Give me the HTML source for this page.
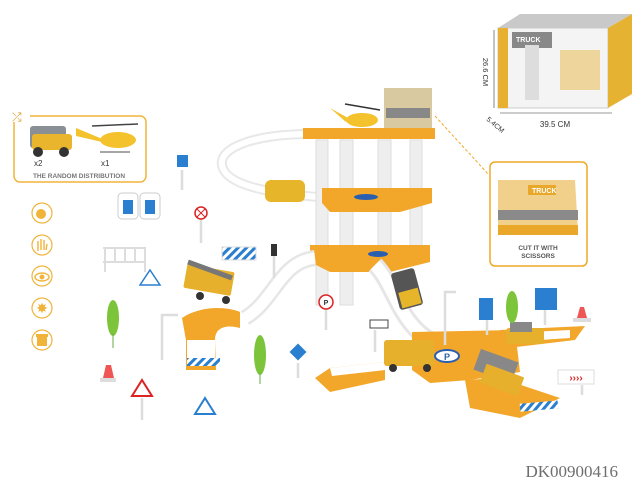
<!DOCTYPE html>
<html><head><meta charset="utf-8"><style>
html,body{margin:0;padding:0;background:#fff;width:640px;height:480px;overflow:hidden}
svg{display:block}
</style></head><body>
<svg width="640" height="480" viewBox="0 0 640 480" xmlns="http://www.w3.org/2000/svg" font-family="Liberation Sans, sans-serif">
<defs>
<pattern id="st" width="6" height="6" patternUnits="userSpaceOnUse" patternTransform="rotate(45)"><rect width="6" height="6" fill="#fff"/><rect width="3" height="6" fill="#2a7fd0"/></pattern>
</defs>
<!-- left info box -->
<rect x="14" y="116" width="132" height="66" rx="6" fill="#fff" stroke="#f2b43c" stroke-width="1.5"/>
<rect x="10" y="110" width="20" height="12" fill="#fff"/>
<text x="12" y="121" font-size="12" fill="#d99a2a">⤮</text>
<!-- truck -->
<rect x="30" y="126" width="36" height="22" rx="3" fill="#8a8f96"/>
<rect x="32" y="134" width="40" height="16" rx="3" fill="#e9b52c"/>
<circle cx="38" cy="152" r="5" fill="#333"/><circle cx="64" cy="152" r="5" fill="#333"/>
<!-- heli -->
<ellipse cx="118" cy="140" rx="18" ry="8" fill="#f3c22c"/>
<path d="M76 128 L100 138 L102 142 L76 136Z" fill="#f3c22c"/>
<line x1="92" y1="126" x2="138" y2="124" stroke="#444" stroke-width="1.5"/>
<line x1="100" y1="152" x2="130" y2="152" stroke="#888" stroke-width="1.5"/>
<text x="34" y="166" font-size="8" fill="#333">x2</text>
<text x="101" y="166" font-size="8" fill="#333">x1</text>
<text x="79" y="178" font-size="6.5" font-weight="bold" fill="#777" text-anchor="middle">THE RANDOM DISTRIBUTION</text>
<!-- left icons -->
<g fill="none" stroke="#f0b43a" stroke-width="1.2">
<circle cx="42" cy="213" r="10"/><circle cx="42" cy="245" r="10"/><circle cx="42" cy="276" r="10"/><circle cx="42" cy="308" r="10"/><circle cx="42" cy="340" r="10"/>
</g>
<circle cx="41" cy="214" r="5" fill="#f0b43a"/>
<path d="M38 251 L38 241 M41 250 L41 239 M44 250 L44 240 M46 250 L47 244" stroke="#f0b43a" stroke-width="1.4"/>
<ellipse cx="42" cy="277" rx="7" ry="4" fill="none" stroke="#f0b43a" stroke-width="1.4"/><circle cx="42" cy="277" r="2.5" fill="#f0b43a"/>
<text x="42" y="313" font-size="14" fill="#f0b43a" text-anchor="middle">✸</text>
<rect x="37" y="337" width="10" height="9" fill="#f0b43a"/><rect x="36" y="334" width="12" height="3" fill="#f0b43a"/>
<!-- top-right box -->
<rect x="498" y="28" width="110" height="80" fill="#f4f4f4" stroke="#ccc"/>
<path d="M498 28 L520 14 L632 14 L608 28Z" fill="#c9c9c9"/>
<path d="M608 28 L632 14 L632 94 L608 108Z" fill="#e6b232"/>
<rect x="498" y="28" width="10" height="80" fill="#e8b030"/>
<rect x="512" y="32" width="40" height="16" fill="#888"/>
<text x="516" y="42" font-size="7" font-weight="bold" fill="#fff">TRUCK</text>
<rect x="525" y="45" width="14" height="55" fill="#ddd"/>
<rect x="560" y="50" width="40" height="40" fill="#e8c060" opacity=".6"/>
<line x1="494" y1="30" x2="494" y2="108" stroke="#333" stroke-width=".6"/>
<line x1="500" y1="113" x2="612" y2="113" stroke="#333" stroke-width=".6"/>
<text x="483" y="72" font-size="7.5" fill="#333" transform="rotate(90 483 72)" text-anchor="middle">26.6 CM</text>
<text x="486" y="120" font-size="7" fill="#333" transform="rotate(40 486 120)">5.4CM</text>
<text x="555" y="127" font-size="8" fill="#333" text-anchor="middle">39.5 CM</text>
<!-- cut box -->
<rect x="490" y="162" width="97" height="104" rx="5" fill="#fff" stroke="#f0a826" stroke-width="1.5"/>
<path d="M498 180 L575 180 L578 232 L498 232Z" fill="#f0d08a"/>
<rect x="498" y="210" width="80" height="10" fill="#8a8a8a"/>
<rect x="498" y="225" width="80" height="10" fill="#e9a82a"/>
<rect x="528" y="185" width="28" height="10" fill="#e9a82a"/>
<text x="532" y="193" font-size="7" font-weight="bold" fill="#fff">TRUCK</text>
<text x="538" y="250" font-size="6.5" font-weight="bold" fill="#555" text-anchor="middle">CUT IT WITH</text>
<text x="538" y="258" font-size="6.5" font-weight="bold" fill="#555" text-anchor="middle">SCISSORS</text>
<line x1="435" y1="116" x2="489" y2="175" stroke="#f0a826" stroke-dasharray="3 2"/>
<!-- spiral ramp -->
<path d="M305 134 C250 135 210 150 225 172 C238 190 290 195 330 198" fill="none" stroke="#e8e8e8" stroke-width="10"/>
<path d="M305 134 C250 135 210 150 225 172 C238 190 290 195 330 198" fill="none" stroke="#fff" stroke-width="6"/>
<rect x="265" y="180" width="40" height="22" rx="6" fill="#e7b52a"/>
<!-- pillars -->
<g fill="#eee" stroke="#ddd">
<rect x="316" y="140" width="12" height="165"/><rect x="340" y="140" width="13" height="165"/><rect x="378" y="140" width="13" height="120"/><rect x="410" y="140" width="12" height="110"/>
</g>
<!-- top platform & helicopter -->
<rect x="384" y="88" width="48" height="40" fill="#d9c9a0"/>
<rect x="386" y="108" width="44" height="10" fill="#888"/>
<path d="M303 128 L435 128 L435 139 L303 139Z" fill="#f2a72a"/>
<ellipse cx="362" cy="120" rx="16" ry="7" fill="#f3c22c"/>
<path d="M330 108 L348 118 L346 122Z" fill="#f3c22c"/>
<line x1="345" y1="104" x2="380" y2="110" stroke="#333" stroke-width="1.5"/>
<!-- mid platform -->
<path d="M322 188 L432 188 L432 203 L400 212 L330 212 L322 203Z" fill="#f2a72a"/>
<ellipse cx="366" cy="197" rx="12" ry="3" fill="#2a5fb0"/>
<!-- lower platform -->
<path d="M310 245 L430 245 L430 262 L390 272 L330 272 L310 262Z" fill="#f2a72a"/>
<ellipse cx="378" cy="254" rx="10" ry="3" fill="#2a5fb0"/>
<!-- ramps -->
<path d="M315 258 C280 262 275 300 245 318" fill="none" stroke="#e6e6e6" stroke-width="16"/>
<path d="M315 258 C280 262 275 300 245 318" fill="none" stroke="#fff" stroke-width="11"/>
<path d="M375 265 C395 285 400 330 440 345" fill="none" stroke="#e6e6e6" stroke-width="18"/>
<path d="M375 265 C395 285 400 330 440 345" fill="none" stroke="#fff" stroke-width="12"/>
<rect x="395" y="270" width="24" height="38" rx="3" fill="#555" transform="rotate(-15 407 289)"/>
<rect x="400" y="290" width="20" height="16" fill="#e7b52a" transform="rotate(-15 410 298)"/>
<!-- left platform -->
<path d="M182 318 C200 306 225 306 240 312 L240 328 C225 324 215 328 215 340 L216 370 L186 370 L186 340Z" fill="#f2a72a"/>
<rect x="187" y="340" width="28" height="20" fill="#fff"/>
<rect x="187" y="358" width="33" height="8" fill="url(#st)"/>
<!-- cross platform -->
<path d="M315 378 L330 368 L385 362 L385 380 L330 392Z" fill="#f2a72a"/>
<path d="M330 368 L385 362 L385 370 L332 376Z" fill="#fff"/>
<path d="M412 332 L515 330 L520 372 L470 380 L430 383 L412 370Z" fill="#f2a72a"/>
<ellipse cx="447" cy="356" rx="12" ry="6" fill="#fff" stroke="#2a5fb0" stroke-width="2"/>
<text x="447" y="360" font-size="9" font-weight="bold" fill="#2a5fb0" text-anchor="middle">P</text>
<path d="M500 330 L585 326 L575 340 L508 348Z" fill="#f2a72a"/>
<path d="M510 333 L570 330 L570 338 L510 342Z" fill="#fff"/>
<path d="M465 380 L500 378 L560 398 L520 418 L470 408Z" fill="#f2a72a"/>
<rect x="520" y="402" width="38" height="8" fill="url(#st)" transform="rotate(-5 540 406)"/>
<!-- vehicles on cross -->
<rect x="384" y="340" width="50" height="26" rx="3" fill="#e6b02c"/>
<circle cx="393" cy="368" r="4" fill="#333"/><circle cx="427" cy="368" r="4" fill="#333"/>
<rect x="476" y="355" width="40" height="22" fill="#888" transform="rotate(20 496 366)"/>
<rect x="482" y="370" width="40" height="20" fill="#e6b02c" transform="rotate(20 502 380)"/>
<rect x="506" y="328" width="38" height="16" rx="3" fill="#e6b02c"/>
<rect x="510" y="322" width="22" height="10" fill="#888"/>
<!-- crane truck -->
<rect x="185" y="268" width="48" height="24" rx="2" fill="#e6b02c" transform="rotate(10 209 280)"/>
<line x1="188" y1="262" x2="232" y2="278" stroke="#777" stroke-width="5"/>
<circle cx="200" cy="296" r="4" fill="#333"/><circle cx="226" cy="300" r="4" fill="#333"/>
<!-- signs & props -->
<g stroke="#ddd" stroke-width="2.5" fill="none">
<line x1="182" y1="170" x2="182" y2="190"/><line x1="201" y1="218" x2="201" y2="243"/><line x1="274" y1="254" x2="274" y2="278"/>
<line x1="326" y1="307" x2="326" y2="330"/><line x1="142" y1="398" x2="142" y2="420"/><line x1="298" y1="363" x2="298" y2="378"/>
<path d="M162 360 L162 315 L178 315"/><path d="M445 345 L445 292 L456 292"/>
<line x1="375" y1="330" x2="375" y2="352"/><line x1="487" y1="320" x2="487" y2="335"/><line x1="545" y1="310" x2="545" y2="325"/>
<line x1="582" y1="385" x2="582" y2="395"/>
</g>
<rect x="177" y="155" width="11" height="12" fill="#2a7fd0"/>
<g fill="#fff" stroke="#ccc"><rect x="118" y="193" width="20" height="26" rx="4"/><rect x="140" y="193" width="20" height="26" rx="4"/></g>
<rect x="123" y="200" width="10" height="14" fill="#2a7fd0"/><rect x="145" y="200" width="10" height="14" fill="#2a7fd0"/>
<circle cx="201" cy="213" r="6" fill="#fff" stroke="#d22" stroke-width="1.5"/>
<path d="M197 209 L205 217 M205 209 L197 217" stroke="#d22"/>
<g fill="none" stroke="#ddd" stroke-width="2"><path d="M103 248 L146 248 M103 262 L146 262 M105 248 V272 M115 248 V262 M125 248 V262 M135 248 V262 M145 248 V272"/></g>
<path d="M150 270 L160 285 L140 285Z" fill="#fff" stroke="#2a7fd0" stroke-width="1.5"/>
<rect x="222" y="247" width="34" height="13" fill="url(#st)" stroke="#ddd"/>
<rect x="271" y="244" width="6" height="12" fill="#333"/>
<ellipse cx="113" cy="318" rx="6" ry="18" fill="#7cc43a"/><line x1="113" y1="334" x2="113" y2="348" stroke="#6a4"/>
<ellipse cx="260" cy="355" rx="6" ry="20" fill="#7cc43a"/><line x1="260" y1="373" x2="260" y2="384" stroke="#6a4"/>
<ellipse cx="512" cy="307" rx="6" ry="16" fill="#7cc43a"/>
<path d="M106 365 L111 365 L114 378 L103 378Z" fill="#e55"/><rect x="100" y="378" width="16" height="4" fill="#ddd"/>
<path d="M580 307 L584 307 L587 318 L577 318Z" fill="#e55"/><rect x="573" y="318" width="18" height="4" fill="#ddd"/>
<path d="M142 380 L152 396 L132 396Z" fill="#fff" stroke="#d22" stroke-width="2"/>
<path d="M205 398 L215 414 L195 414Z" fill="#fff" stroke="#2a7fd0" stroke-width="2"/>
<rect x="292" y="346" width="12" height="12" fill="#2a7fd0" transform="rotate(45 298 352)"/>
<circle cx="326" cy="302" r="7" fill="#fff" stroke="#d22" stroke-width="1.5"/>
<text x="326" y="305" font-size="7" font-weight="bold" fill="#333" text-anchor="middle">P</text>
<rect x="370" y="320" width="18" height="8" fill="#fff" stroke="#444"/>
<rect x="479" y="298" width="14" height="22" fill="#2a7fd0"/>
<rect x="535" y="288" width="22" height="22" fill="#2a7fd0"/>
<rect x="558" y="370" width="36" height="14" fill="#fff" stroke="#ddd"/>
<text x="576" y="381" font-size="10" font-weight="bold" fill="#d22" text-anchor="middle">››››</text>
<text x="618" y="477" font-size="17" font-family="Liberation Serif, serif" fill="#6e6e6e" text-anchor="end">DK00900416</text>
</svg>
</body></html>
